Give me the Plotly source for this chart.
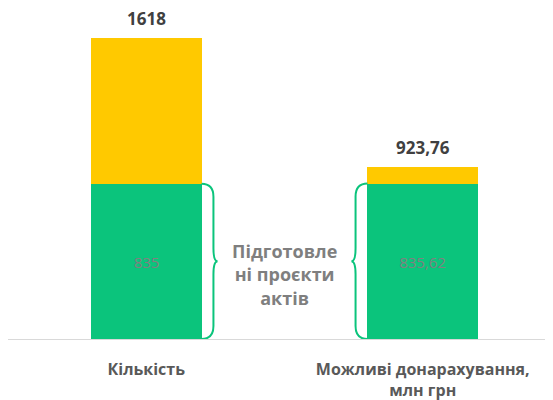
import plotly.graph_objects as go

categories = ["Кількість", "Можливі донарахування,<br>млн грн"]
prepared = [835, 835.62]
totals = [1618, 923.76]
brace_label = "Підготовле<br>ні проєкти<br>актів"

rest = [t - p for t, p in zip(totals, prepared)]
x = [0, 1]

def fmt(v):
    s = f"{v:.2f}".rstrip("0").rstrip(".")
    return s.replace(".", ",")

GREEN = "#0BC47C"
YELLOW = "#FFC900"
FONT = "'Open Sans', sans-serif"

fig = go.Figure()
fig.add_trace(go.Bar(
    x=x, y=prepared, width=0.4, marker=dict(color=GREEN, line=dict(width=0)),
    text=[fmt(v) for v in prepared], textposition="inside", insidetextanchor="middle",
    textfont=dict(color="#808080", size=15, family=FONT), showlegend=False,
    cliponaxis=False,
))
fig.add_trace(go.Bar(
    x=x, y=rest, width=0.4, marker=dict(color=YELLOW, line=dict(width=0)),
    showlegend=False, textposition="none",
))

for xi, t in zip(x, totals):
    fig.add_annotation(x=xi, y=t, text=f"<b>{fmt(t)}</b>", showarrow=False,
                       yanchor="bottom", yshift=6,
                       font=dict(size=17, color="#404040", family=FONT))

# braces
def brace(x0, x1, x2, ytop, ybot, r):
    ymid = (ytop + ybot) / 2
    return (f"M {x0},{ytop} Q {x1},{ytop} {x1},{ytop - r} "
            f"L {x1},{ymid + r} Q {x1},{ymid} {x2},{ymid} "
            f"Q {x1},{ymid} {x1},{ymid - r} "
            f"L {x1},{ybot + r} Q {x1},{ybot} {x0},{ybot}")

r = 70
fig.add_shape(type="path", xref="x", yref="y",
              path=brace(0.2, 0.243, 0.258, prepared[0], 0, r),
              line=dict(color=GREEN, width=2))
fig.add_shape(type="path", xref="x", yref="y",
              path=brace(0.8, 0.757, 0.742, prepared[1], 0, r),
              line=dict(color=GREEN, width=2))

fig.add_annotation(x=0.5, y=prepared[0] / 2, text=f"<b>{brace_label}</b>",
                   showarrow=False, yanchor="middle", yshift=-13,
                   font=dict(size=18, color="#7f7f7f", family=FONT))

fig.update_layout(
    width=553, height=400,
    margin=dict(l=0, r=0, t=2, b=69),
    plot_bgcolor="white", paper_bgcolor="white",
    barmode="stack", bargap=0,
    font=dict(family=FONT),
    xaxis=dict(range=[-0.5, 1.5], tickvals=x,
               ticktext=[f"<b>{c}</b>" for c in categories],
               showline=True, linecolor="#d9d9d9", linewidth=1,
               showgrid=False, zeroline=False, ticks="", ticklabelstandoff=16,
               tickfont=dict(size=16, color="#595959", family=FONT)),
    yaxis=dict(range=[0, 1618 * 329 / 301], visible=False, showgrid=False, zeroline=False),
)

fig.write_html("out.html")
